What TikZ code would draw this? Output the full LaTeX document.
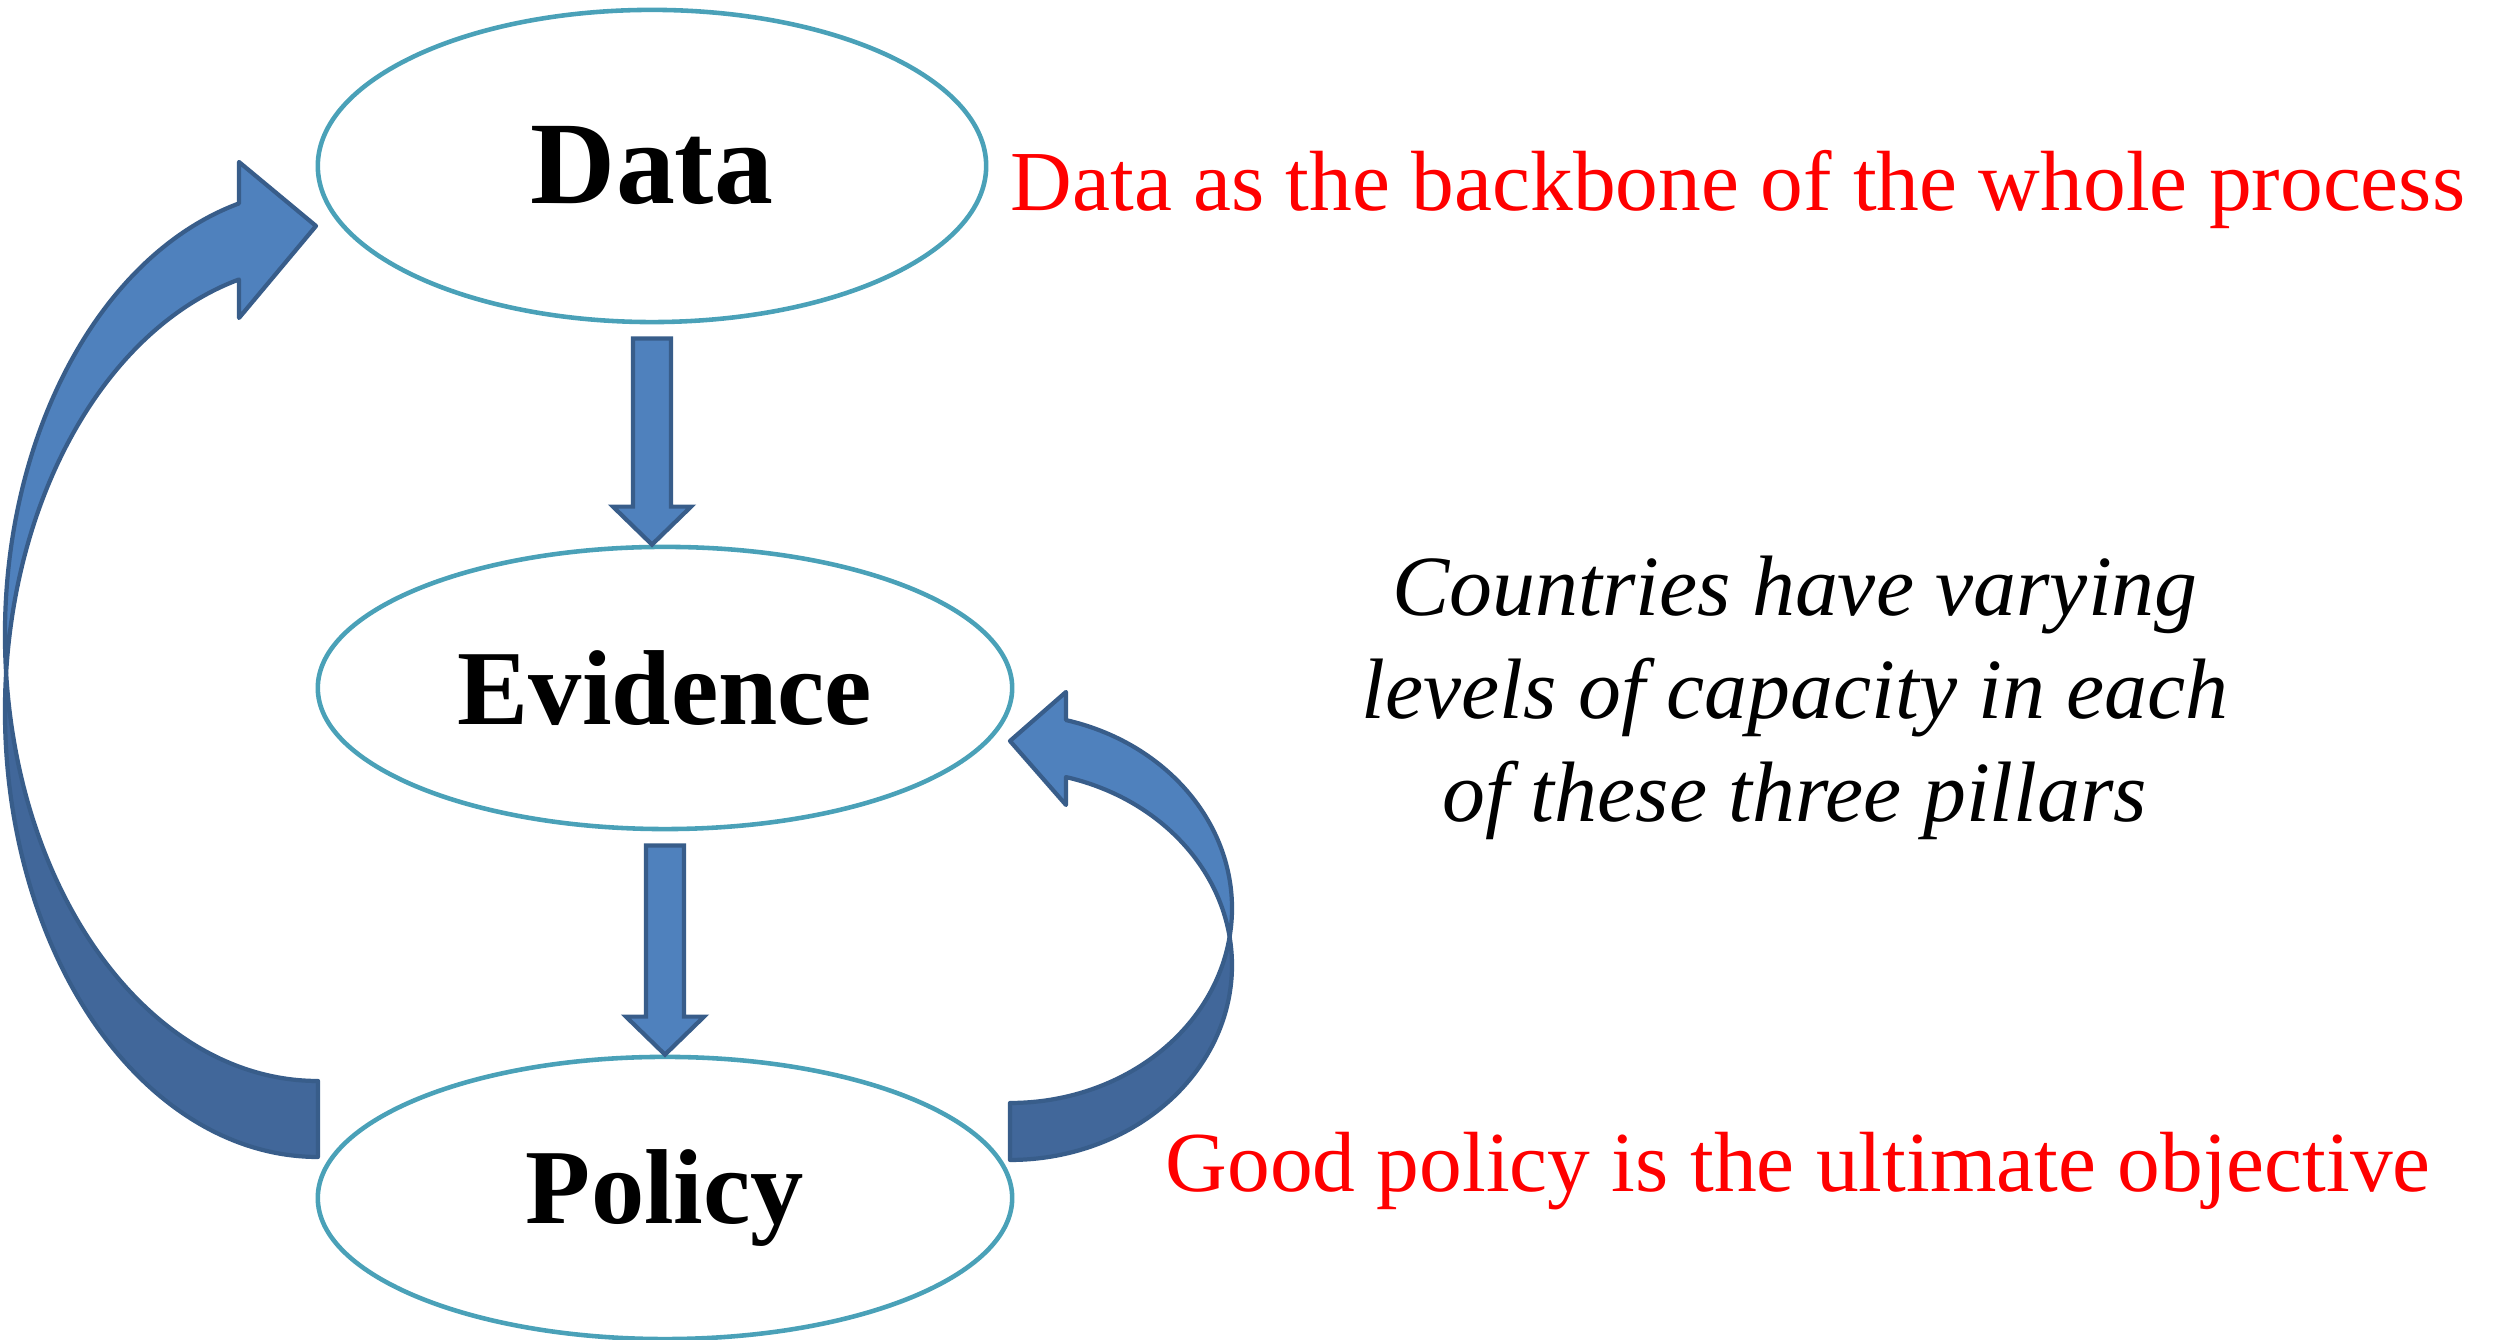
\documentclass[tikz,border=0pt]{standalone}
\usepackage{fontspec}
\setmainfont{Liberation Serif}
\usepackage{tikz}
\usetikzlibrary{calc,shapes.geometric}
\definecolor{rim}{HTML}{4AA1B8}
\definecolor{arrowfill}{HTML}{4F81BD}
\definecolor{arrowback}{HTML}{41679A}
\definecolor{arrowline}{HTML}{385D8A}
\definecolor{note}{HTML}{FF0000}
\tikzset{
  pillar/.style={ellipse, draw=rim, line width=1.3pt, inner sep=0pt,
    minimum width=6.94cm, minimum height=2.82cm,
    font=\bfseries\fontsize{30.3}{36}\selectfont},
  front/.style={fill=arrowfill, draw=arrowline, line width=1.2pt, line join=round},
  back/.style={fill=arrowback, draw=arrowline, line width=1.2pt, line join=round},
  blockarrow/.style={front, line join=miter,
    to path={let \p1=(\tikztostart), \p2=(\tikztotarget) in
      (\x1-5.4pt,\y1-4pt) -- (\x1-5.4pt,\y2+10.8pt) -- (\x1-11.1pt,\y2+10.8pt)
      -- (\x1,\y2) -- (\x1+11.1pt,\y2+10.8pt) -- (\x1+5.4pt,\y2+10.8pt)
      -- (\x1+5.4pt,\y1-4pt) -- cycle}},
  redlab/.style={text=note, inner sep=0pt, font=\fontsize{24.3}{29.3}\selectfont},
  notelab/.style={inner sep=0pt, align=center, font=\itshape\fontsize{24.4}{29.3}\selectfont},
}

\begin{document}
\begin{tikzpicture}[x=0.01cm, y=0.01cm]
  \useasboundingbox (0,0) rectangle (2493,1340);

  % three pillars
  \node[pillar, minimum width=6.68cm, minimum height=3.12cm,
    font=\bfseries\fontsize{33.5}{40}\selectfont] (data) at (652,1174) {Data};
  \node[pillar] (evidence) at (665,652) {Evidence};
  \node[pillar] (policy) at (665,142) {Policy};

  % straight arrows down the chain
  \draw[blockarrow] (data.south) to (evidence.north);
  \draw[blockarrow] (evidence.south) to (policy.north);

  % feedback policy -> data, back half first
  \draw[back] (6.1,667) arc[start angle=175.11, end angle=270, x radius=313, y radius=446]
    -- (318,259) arc[start angle=270, end angle=184.89, x radius=313, y radius=446] -- cycle;
  \draw[front] (6.1,667) arc[start angle=184.89, end angle=104.62, x radius=313, y radius=446]
    -- (239,1178) -- (316,1114) -- (239,1022) -- (239,1060.5)
    arc[start angle=104.62, end angle=175.11, x radius=313, y radius=446] -- cycle;

  % feedback policy -> evidence
  \draw[back] (1229.6,403.1) arc[start angle=8.42, end angle=-90, x radius=222, y radius=194.6]
    -- (1010,237) arc[start angle=-90, end angle=-8.42, x radius=222, y radius=194.6] -- cycle;
  \draw[front] (1229.6,403.1) arc[start angle=-8.42, end angle=75.39, x radius=222, y radius=194.6]
    -- (1066,648) -- (1010,599) -- (1066,535) -- (1066,562.9)
    arc[start angle=75.39, end angle=8.42, x radius=222, y radius=194.6] -- cycle;

  % side notes
  \node[redlab, anchor=base west] (backbone) at (1010,1129)
    {Data as the backbone of the whole process};
  \node[notelab] (capacity) at (1795,642)
    {Countries have varying\\levels of capacity in each\\of these three pillars};
  \node[redlab, anchor=base west] (objective) at (1165,148)
    {Good policy is the ultimate objective};
\end{tikzpicture}
\end{document}
